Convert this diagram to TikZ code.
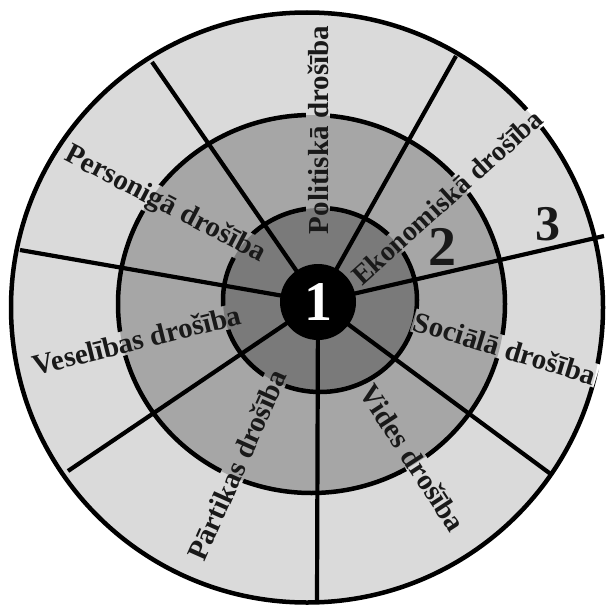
\documentclass[tikz,border=0pt]{standalone}
\usepackage{fontspec}
\setmainfont{Liberation Serif}
\definecolor{outerfill}{gray}{0.855}
\definecolor{midfill}{gray}{0.65}
\definecolor{innerfill}{gray}{0.48}
\definecolor{txt}{gray}{0.1}
\begin{document}
\begin{tikzpicture}[x=1pt,y=-1pt,
  lbl/.style={font=\bfseries\fontsize{29}{29}\selectfont, text=txt, inner sep=1.5pt},
  ring/.style={line width=4.5pt},
  spoke/.style={line width=4.2pt},
  num/.style={font=\bfseries\fontsize{56}{56}\selectfont, inner sep=0pt}]
\useasboundingbox (0,0) rectangle (605,610);
\fill[white] (0,0) rectangle (605,610);
% ring fills
\fill[outerfill] (307,307.5) ellipse [x radius=296, y radius=295];
\fill[midfill] (311.5,304) ellipse [x radius=193.5, y radius=189];
\fill[innerfill] (320,300) ellipse [x radius=97, y radius=92];
% labels
\node[lbl, rotate=90]    (pol) at (318,130) {Politiskā drošība};
\node[lbl, rotate=42, font=\bfseries\fontsize{28}{28}\selectfont] (eko) at (447,197) {Ekonomiskā drošība};
\node[lbl, rotate=-17]   (soc) at (505,348) {Sociālā drošība};
\node[lbl, rotate=-57]   (vid) at (413,458) {Vides drošība};
\node[lbl, rotate=66]    (par) at (237,465) {Pārtikas drošība};
\node[lbl, rotate=14]    (ves) at (137,340) {Veselības drošība};
\node[lbl, rotate=-27.5] (per) at (165,205) {Personigā drošība};
% ring outlines, broken where labels cross them
\begin{scope}[even odd rule]
\clip (-20,-20) rectangle (630,630)
  (pol.north west) -- (pol.north east) -- (pol.south east) -- (pol.south west) -- cycle
  (eko.north west) -- (eko.north east) -- (eko.south east) -- (eko.south west) -- cycle
  (soc.north west) -- (soc.north east) -- (soc.south east) -- (soc.south west) -- cycle
  (vid.north west) -- (vid.north east) -- (vid.south east) -- (vid.south west) -- cycle
  (par.north west) -- (par.north east) -- (par.south east) -- (par.south west) -- cycle
  (ves.north west) -- (ves.north east) -- (ves.south east) -- (ves.south west) -- cycle
  (per.north west) -- (per.north east) -- (per.south east) -- (per.south west) -- cycle;
\draw[ring] (307,307.5) ellipse [x radius=296, y radius=295];
\draw[ring] (311.5,304) ellipse [x radius=193.5, y radius=189];
\draw[ring] (320,300) ellipse [x radius=97, y radius=92];
\end{scope}
% spokes
\coordinate (o) at (318,302);
\coordinate (s1) at (152,62);
\coordinate (s2) at (456,56);
\coordinate (s3) at (604,236);
\coordinate (s4) at (552,475);
\coordinate (s5) at (317,603);
\coordinate (s6) at (68,471);
\coordinate (s7) at (20,250);
\foreach \s in {s1,s2,s3,s4,s5,s6,s7} \draw[spoke] (o) -- (\s);
% centre
\node[circle, fill=black, minimum size=76pt, inner sep=0pt] (c) at (o) {};
\node[num, text=white] (n1) at (c) {1};
\node[num, text=txt] (n2) at (442,247) {2};
\node[num, text=txt, font=\bfseries\fontsize{50}{50}\selectfont] (n3) at (548,224) {3};
\end{tikzpicture}
\end{document}
